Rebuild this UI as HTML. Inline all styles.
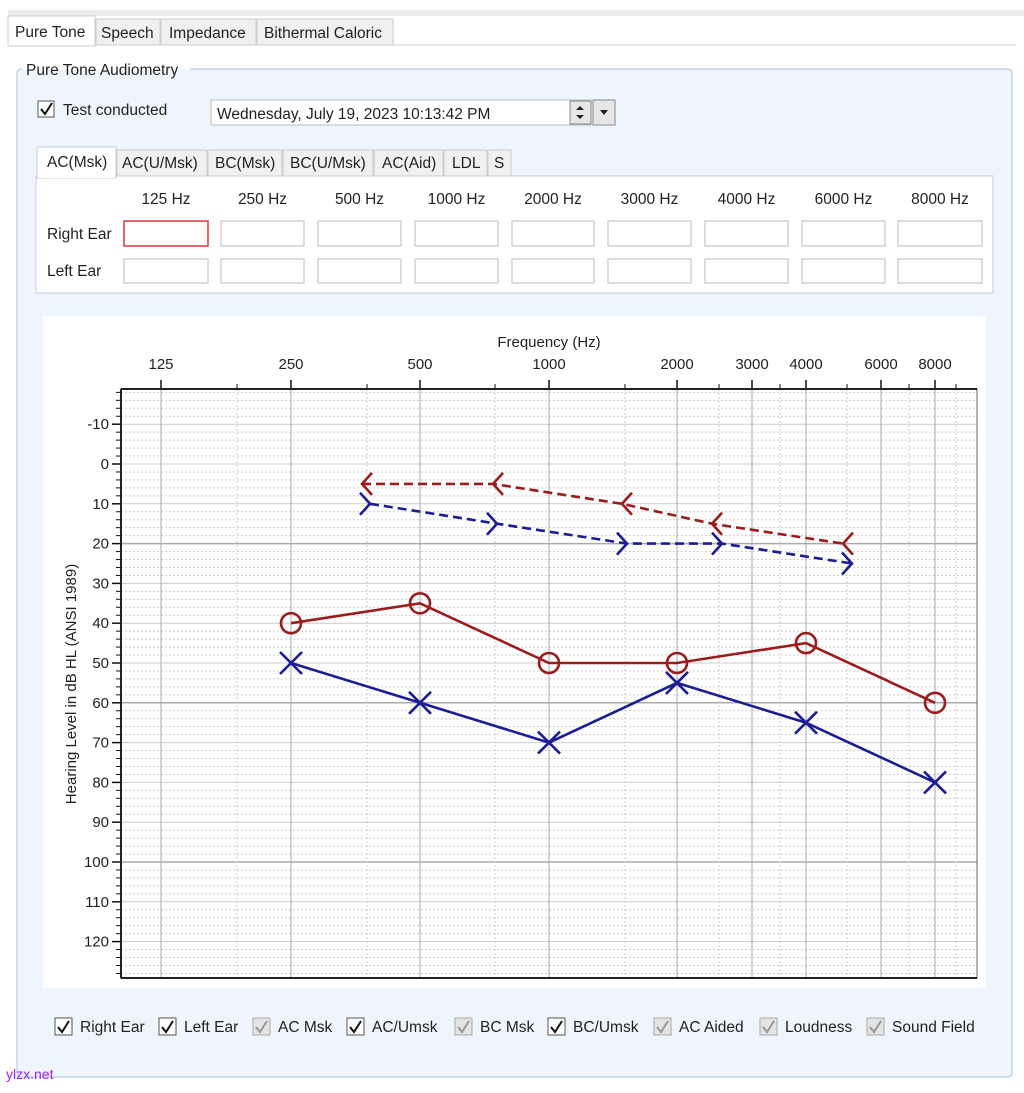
<!DOCTYPE html>
<html><head><meta charset="utf-8">
<style>
body{margin:0;background:#fff;width:1024px;height:1088px;overflow:hidden;font-family:"Liberation Sans",sans-serif}
svg text{font-family:"Liberation Sans",sans-serif;fill:#222}
</style></head><body>
<svg id="s" width="1024" height="1088" viewBox="0 0 1024 1088" xmlns="http://www.w3.org/2000/svg">
<rect x="0" y="0" width="1024" height="1088" fill="#fff"/>
<rect x="8" y="10" width="1016" height="6" fill="#ececec"/>
<line x1="8" y1="45" x2="1016" y2="45" stroke="#ccc"/>
<rect x="8" y="16" width="87" height="30" fill="#fff" stroke="#ccc"/>
<line x1="9" y1="45" x2="94" y2="45" stroke="#fff"/>
<rect x="96" y="19" width="64" height="26" fill="#f0f0f0" stroke="#ccc"/>
<rect x="161" y="19" width="95" height="26" fill="#f0f0f0" stroke="#ccc"/>
<rect x="257" y="19" width="136" height="26" fill="#f0f0f0" stroke="#ccc"/>
<text x="15" y="37" font-size="15.5">Pure Tone</text>
<text x="101" y="38" font-size="15.5">Speech</text>
<text x="169" y="38" font-size="15.5">Impedance</text>
<text x="264" y="38" font-size="15.5">Bithermal Caloric</text>
<rect x="17" y="69" width="995" height="1008" rx="4" fill="#eef5fc" stroke="#a9c2d8"/>
<rect x="22" y="60" width="168" height="16" fill="#fff"/>
<rect x="22" y="70" width="168" height="8" fill="#eef5fc"/>
<text x="26" y="75" font-size="15.5">Pure Tone Audiometry</text>
<rect x="38" y="101" width="16" height="16" fill="#fff" stroke="#555"/>
<path d="M41 109 L45 114 L52 103" stroke="#111" stroke-width="2" fill="none"/>
<text x="63" y="115" font-size="15.5">Test conducted</text>
<rect x="211" y="100" width="380" height="25" fill="#fff" stroke="#bbb"/>
<text x="217" y="119" font-size="15.5">Wednesday, July 19, 2023 10:13:42 PM</text>
<rect x="570" y="101" width="21" height="23" fill="#e6e6e6" stroke="#888"/>
<path d="M576 110 L580 106 L584 110Z M576 115 L580 119 L584 115Z" fill="#222"/>
<rect x="593" y="100" width="22" height="25" fill="#e6e6e6" stroke="#888"/>
<path d="M600 110 L604 115 L608 110Z" fill="#222"/>
<rect x="36" y="176" width="957" height="117" fill="#fff" stroke="#ccc"/>
<rect x="37" y="147" width="79" height="31" fill="#fff" stroke="#ccc"/>
<line x1="38" y1="177" x2="115" y2="177" stroke="#fff" stroke-width="2"/>
<rect x="117" y="150" width="90" height="26" fill="#f0f0f0" stroke="#ccc"/>
<rect x="208" y="150" width="74" height="26" fill="#f0f0f0" stroke="#ccc"/>
<rect x="283" y="150" width="90" height="26" fill="#f0f0f0" stroke="#ccc"/>
<rect x="374" y="150" width="69" height="26" fill="#f0f0f0" stroke="#ccc"/>
<rect x="444" y="150" width="43" height="26" fill="#f0f0f0" stroke="#ccc"/>
<rect x="488" y="150" width="23" height="26" fill="#f0f0f0" stroke="#ccc"/>
<g font-size="15.5">
<text x="47" y="167">AC(Msk)</text>
<text x="122" y="168">AC(U/Msk)</text>
<text x="215" y="168">BC(Msk)</text>
<text x="290" y="168">BC(U/Msk)</text>
<text x="382" y="168">AC(Aid)</text>
<text x="452" y="168">LDL</text>
<text x="494" y="168">S</text>
<text x="47" y="239">Right Ear</text>
<text x="47" y="276">Left Ear</text>
</g>
<g id="inputs"></g>
<rect x="43" y="316" width="943" height="672" fill="#fff"/>
<g id="grid"></g>
<text x="549" y="347" font-size="15" text-anchor="middle">Frequency (Hz)</text>
<text transform="translate(76,684) rotate(-90)" font-size="15" text-anchor="middle">Hearing Level in dB HL (ANSI 1989)</text>
<g id="data"></g>
<g id="cbs"></g>
<text x="6" y="1079" font-size="14" style="fill:#a020f0">ylzx.net</text>
</svg>
<script>
const NS="http://www.w3.org/2000/svg";
function el(p,t,a,txt){const e=document.createElementNS(NS,t);for(const k in a)e.setAttribute(k,a[k]);if(txt!==undefined)e.textContent=txt;document.getElementById(p).appendChild(e);return e;}
const ix=[[124,208],[221,304],[318,401],[415,498],[512,594],[608,691],[705,788],[802,885],[898,982]];
const hz=["125 Hz","250 Hz","500 Hz","1000 Hz","2000 Hz","3000 Hz","4000 Hz","6000 Hz","8000 Hz"];
ix.forEach((r,i)=>{
 el("inputs","text",{x:(r[0]+r[1])/2,y:204,"font-size":15.5,"text-anchor":"middle"},hz[i]);
 el("inputs","rect",{x:r[0],y:221,width:r[1]-r[0],height:25,fill:"#fff",stroke:i==0?"#d9383c":"#bbb","stroke-width":i==0?1.5:1});
 el("inputs","rect",{x:r[0],y:259,width:r[1]-r[0],height:24,fill:"#fff",stroke:"#bbb"});
});
const L=121,R=977,T=389,B=978;
const Y=d=>464+3.98*d;
for(let d=-18;d<=128;d+=2){
 const y=Y(d);
 if(d%10===0){el("grid","line",{x1:L,x2:R,y1:y,y2:y,stroke:(d%40===20)?"#aaa":"#ccc","stroke-width":(d%40===20)?1.5:1});
  el("grid","line",{x1:L-9,x2:L,y1:y,y2:y,stroke:"#111","stroke-width":1.5});
  el("grid","text",{x:L-12,y:y+5,"font-size":15,"text-anchor":"end"},String(d));}
 else{el("grid","line",{x1:L,x2:R,y1:y,y2:y,stroke:"#ccc","stroke-dasharray":"2,2"});
  el("grid","line",{x1:L-5,x2:L,y1:y,y2:y,stroke:"#111"});}
}
const maj=[[161,"125"],[291,"250"],[420,"500"],[549,"1000"],[677,"2000"],[752,"3000"],[806,"4000"],[881,"6000"],[935,"8000"]];
const mn=[237,367,495,625,719,780,847,909,956];
mn.forEach(x=>{el("grid","line",{x1:x,x2:x,y1:T,y2:B,stroke:"#ccc","stroke-dasharray":"2,2"});el("grid","line",{x1:x,x2:x,y1:T-5,y2:T,stroke:"#111"});});
maj.forEach(m=>{el("grid","line",{x1:m[0],x2:m[0],y1:T,y2:B,stroke:"#aaa"});el("grid","line",{x1:m[0],x2:m[0],y1:T-9,y2:T,stroke:"#111","stroke-width":1.5});
 el("grid","text",{x:m[0],y:369,"font-size":15,"text-anchor":"middle"},m[1]);});
el("grid","rect",{x:L,y:T,width:R-L,height:B-T,fill:"none",stroke:"#666"});
el("grid","line",{x1:L,x2:R,y1:T,y2:T,stroke:"#222","stroke-width":2});
el("grid","line",{x1:L,x2:L,y1:T,y2:B,stroke:"#222","stroke-width":2});
el("grid","line",{x1:L,x2:R,y1:B,y2:B,stroke:"#222","stroke-width":2});
const red="#9b1c1c",blue="#1c1c94",W=2.6;
const xs=[291,420,549,677,806,935];
const rv=[40,35,50,50,45,60],bv=[50,60,70,55,65,80];
el("data","polyline",{points:xs.map((x,i)=>x+","+Y(rv[i])).join(" "),fill:"none",stroke:red,"stroke-width":W});
el("data","polyline",{points:xs.map((x,i)=>x+","+Y(bv[i])).join(" "),fill:"none",stroke:blue,"stroke-width":W});
xs.forEach((x,i)=>{el("data","circle",{cx:x,cy:Y(rv[i]),r:10,fill:"none",stroke:red,"stroke-width":W});
 const y=Y(bv[i]);el("data","path",{d:`M${x-11} ${y-11}L${x+11} ${y+11}M${x+11} ${y-11}L${x-11} ${y+11}`,stroke:blue,"stroke-width":W});});
const rb=[[362,5],[493,5],[622,10],[712,15],[843,20]];
const bb=[[370,10],[497,15],[627,20],[722,20],[852,25]];
el("data","polyline",{points:rb.map(p=>p[0]+","+Y(p[1])).join(" "),fill:"none",stroke:red,"stroke-width":W,"stroke-dasharray":"9,5"});
el("data","polyline",{points:bb.map(p=>p[0]+","+Y(p[1])).join(" "),fill:"none",stroke:blue,"stroke-width":W,"stroke-dasharray":"9,5"});
rb.forEach(p=>{const x=p[0],y=Y(p[1]);el("data","path",{d:`M${x+10} ${y-11}L${x} ${y}L${x+10} ${y+11}`,fill:"none",stroke:red,"stroke-width":W});});
bb.forEach(p=>{const x=p[0],y=Y(p[1]);el("data","path",{d:`M${x-10} ${y-11}L${x} ${y}L${x-10} ${y+11}`,fill:"none",stroke:blue,"stroke-width":W});});
const cb=[[55,"Right Ear",1],[159,"Left Ear",1],[253,"AC Msk",0],[347,"AC/Umsk",1],[455,"BC Msk",0],[548,"BC/Umsk",1],[654,"AC Aided",0],[760,"Loudness",0],[867,"Sound Field",0]];
cb.forEach(c=>{const x=c[0],y=1018;
 el("cbs","rect",{x:x,y:y,width:17,height:17,fill:c[2]?"#fff":"#e4e4e4",stroke:c[2]?"#555":"#aaa"});
 el("cbs","path",{d:`M${x+3} ${y+9}L${x+7} ${y+14}L${x+14} ${y+3}`,fill:"none",stroke:c[2]?"#111":"#999","stroke-width":2});
 el("cbs","text",{x:x+25,y:y+14,"font-size":15.5},c[1]);});
</script>
</body></html>
